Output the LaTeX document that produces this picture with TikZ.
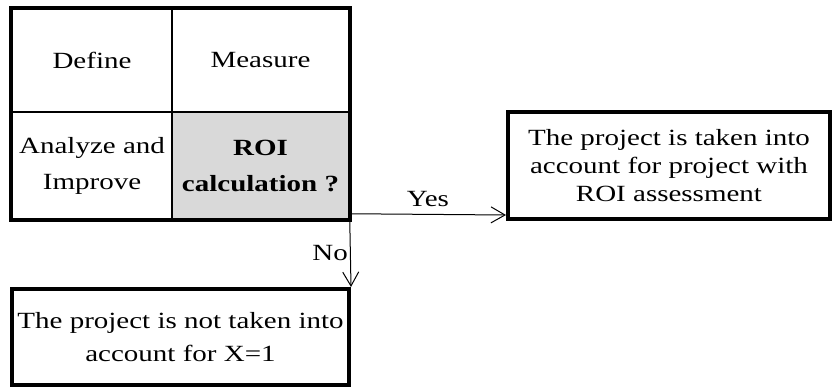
\documentclass[tikz,border=0pt]{standalone}
\usepackage{fontspec}
\setmainfont{Liberation Serif}[FakeStretch=1.25]
\usetikzlibrary{arrows.meta}
\begin{document}
\begin{tikzpicture}[x=0.5pt,y=-0.5pt,
  >={Straight Barb[length=7pt,width=8pt]},
  cell/.style={draw,line width=0.75pt,inner sep=0pt,align=center,
    font=\fontsize{11.6}{18}\selectfont},
  outcome/.style={draw,line width=2pt,inner sep=0pt,align=center}]
\useasboundingbox (0,0) rectangle (832,390);

\node[cell,minimum width=80pt,minimum height=51.5pt] (define) at (92,60.5) {Define};
\node[cell,minimum width=88.5pt,minimum height=51.5pt] (measure) at (260.5,60.5) {Measure};
\node[cell,minimum width=80pt,minimum height=53.5pt] (analyze) at (92,165.5) {Analyze and\\Improve};
\node[cell,fill=black!15,minimum width=88.5pt,minimum height=53.5pt] (roi) at (260.5,165.5) {\textbf{ROI}\\\textbf{calculation ?}};
\draw[line width=2pt] (define.north west) rectangle (roi.south east);

\node[outcome,minimum width=161pt,minimum height=53.5pt,
  font=\fontsize{11.6}{14}\selectfont] (taken) at (669,165.5)
  {The project is taken into\\account for project with\\ROI assessment};
\node[outcome,minimum width=168.5pt,minimum height=48pt,
  font=\fontsize{11.6}{16.5}\selectfont] (nottaken) at (180.5,337)
  {The project is not taken into\\account for X=1};

\path[draw,line width=0.5pt,->] ([yshift=3pt]roi.south east) -- node[above,font=\fontsize{11.6}{13}\selectfont] {Yes} ([yshift=3pt]taken.south west);
\path[draw,line width=0.5pt,->] (roi.south east) -- node[left,inner sep=1pt,font=\fontsize{11.6}{13}\selectfont] {No} (nottaken.north east);
\end{tikzpicture}
\end{document}
